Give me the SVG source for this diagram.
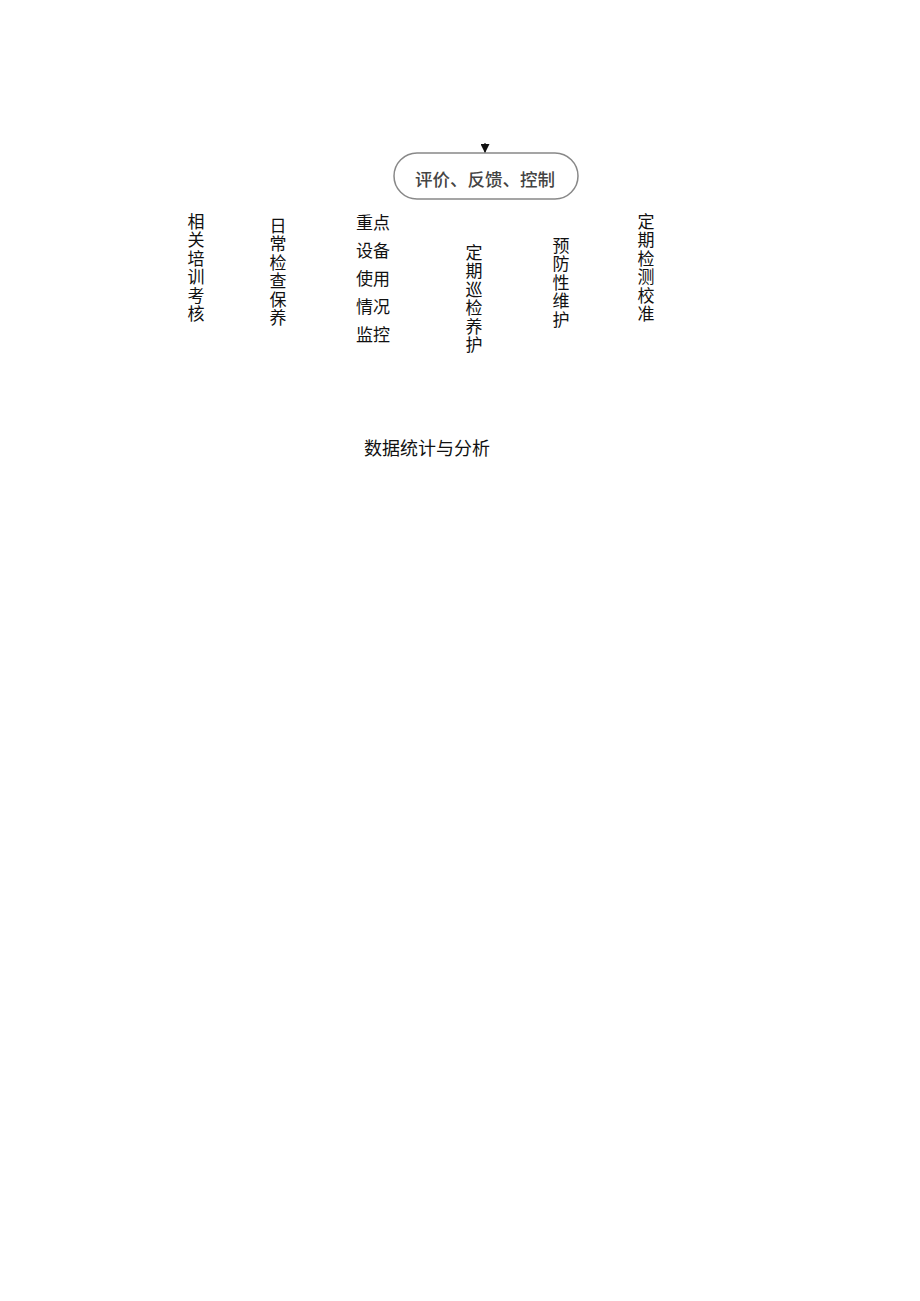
<svg xmlns="http://www.w3.org/2000/svg" width="920" height="1301" viewBox="0 0 920 1301">
<defs>
<marker id="ah" viewBox="0 0 10 10" refX="10" refY="5" markerWidth="9" markerHeight="9" markerUnits="userSpaceOnUse" orient="auto">
<path d="M0,0 L10,5 L0,10 Z" fill="#111"/>
</marker>
<style>
.t{font-family:"Noto Sans CJK SC","Liberation Sans",sans-serif;font-size:17px;fill:#111;text-anchor:middle}
.v{font-family:"Noto Sans CJK SC","Liberation Sans",sans-serif;font-size:17px;fill:#111;writing-mode:vertical-rl;text-orientation:upright;letter-spacing:1.5px}
.box{fill:#fff;stroke:#888;stroke-width:1.5}
.bt{font-family:"Noto Sans CJK SC","Liberation Sans",sans-serif;font-size:17.5px;font-weight:500;fill:#444;text-anchor:middle}
</style>
</defs>
<rect width="920" height="1301" fill="#fff"/>
<g id="connectors">
<line x1="485" y1="143" x2="485" y2="153" stroke="#111" stroke-width="1.2" marker-end="url(#ah)"/>
</g>
<g id="node-eval">
<rect class="box" x="394" y="153" width="184" height="46" rx="23" ry="23"/>
<text class="bt" x="485" y="186">评价、反馈、控制</text>
</g>
<g id="node-training">
<text class="v" x="196" y="213">相关培训考核</text>
</g>
<g id="node-daily">
<text class="v" x="278" y="217">日常检查保养</text>
</g>
<g id="node-monitor">
<text class="t" x="373" y="229">重点</text>
<text class="t" x="373" y="257">设备</text>
<text class="t" x="373" y="285">使用</text>
<text class="t" x="373" y="313">情况</text>
<text class="t" x="373" y="341">监控</text>
</g>
<g id="node-patrol">
<text class="v" x="474" y="244">定期巡检养护</text>
</g>
<g id="node-preventive">
<text class="v" x="561" y="237">预防性维护</text>
</g>
<g id="node-calibration">
<text class="v" x="646" y="213">定期检测校准</text>
</g>
<g id="node-stats">
<text class="t" style="font-size:18px" x="427" y="455">数据统计与分析</text>
</g>
</svg>
